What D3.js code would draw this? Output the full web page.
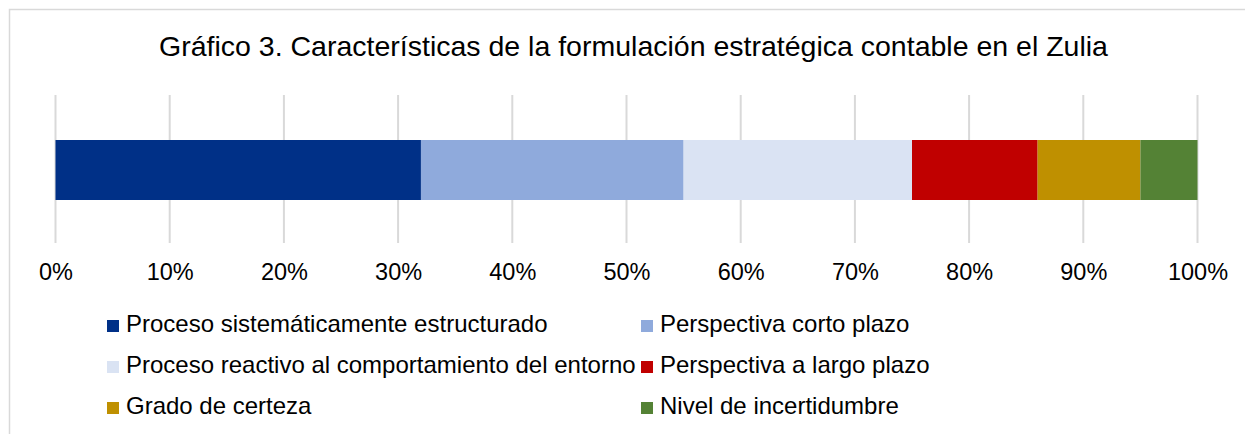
<!DOCTYPE html>
<html><head><meta charset="utf-8">
<script src="https://cdn.jsdelivr.net/npm/d3@7"></script>
<style>html,body{margin:0;padding:0;background:#fff;}svg{display:block;font-family:"Liberation Sans",Arial,sans-serif;}</style>
</head><body>
<script>
const title = "Gráfico 3. Características de la formulación estratégica contable en el Zulia";
const categories = ["Proceso sistemáticamente estructurado","Perspectiva corto plazo","Proceso reactivo al comportamiento del entorno","Perspectiva a largo plazo","Grado de certeza","Nivel de incertidumbre"];
const values = [32, 23, 20, 11, 9, 5];
const colors = ["#003087","#8faadc","#dae3f3","#c00000","#bf9000","#548235"];
const tickValues = [0,0.1,0.2,0.3,0.4,0.5,0.6,0.7,0.8,0.9,1.0];

const W = 1245, H = 434;
const svg = d3.select("body").append("svg").attr("width", W).attr("height", H);
svg.append("rect").attr("x",0).attr("y",0).attr("width",W).attr("height",H).attr("fill","#fff");
// chart border
svg.append("path").attr("d","M9.5,"+H+"V9.5H"+W).attr("fill","none").attr("stroke","#d9d9d9").attr("stroke-width",1.5);

svg.append("text").attr("x",633.5).attr("y",56).attr("text-anchor","middle")
  .attr("font-size",28.5).attr("fill","#000").text(title);

const x = d3.scaleLinear().domain([0,1]).range([55.5,1197.5]);
const total = d3.sum(values);
let cum = 0;
const segs = values.map((v,i)=>{const s={i, x0:cum/total, x1:(cum+v)/total}; cum+=v; return s;});

// gridlines
svg.append("g").selectAll("line").data(tickValues).join("line")
  .attr("x1",d=>x(d)).attr("x2",d=>x(d)).attr("y1",95).attr("y2",243)
  .attr("stroke","#d9d9d9").attr("stroke-width",2);

// bars
svg.append("g").selectAll("rect").data(segs).join("rect")
  .attr("x",d=>x(d.x0)).attr("width",d=>x(d.x1)-x(d.x0))
  .attr("y",140).attr("height",60).attr("fill",d=>colors[d.i]);

// axis
const axis = d3.axisBottom(x).tickValues(tickValues).tickFormat(d3.format(".0%")).tickSize(0).tickPadding(0);
const ag = svg.append("g").attr("transform","translate(0,263)").call(axis);
ag.select(".domain").remove();
ag.selectAll("text").attr("font-size",23.5).attr("fill","#000").attr("font-family","Liberation Sans, Arial, sans-serif").attr("dy","0.73em");

// legend
const lx = [107, 641], ly = [332, 373, 414];
const lg = svg.append("g").selectAll("g").data(categories).join("g")
  .attr("transform",(d,i)=>`translate(${lx[i%2]},${ly[Math.floor(i/2)]})`);
lg.append("rect").attr("x",0).attr("y",-12).attr("width",12).attr("height",12).attr("fill",(d,i)=>colors[i]);
lg.append("text").attr("x",19).attr("y",0).attr("font-size",24).attr("fill","#000").text(d=>d);
</script>
</body></html>
